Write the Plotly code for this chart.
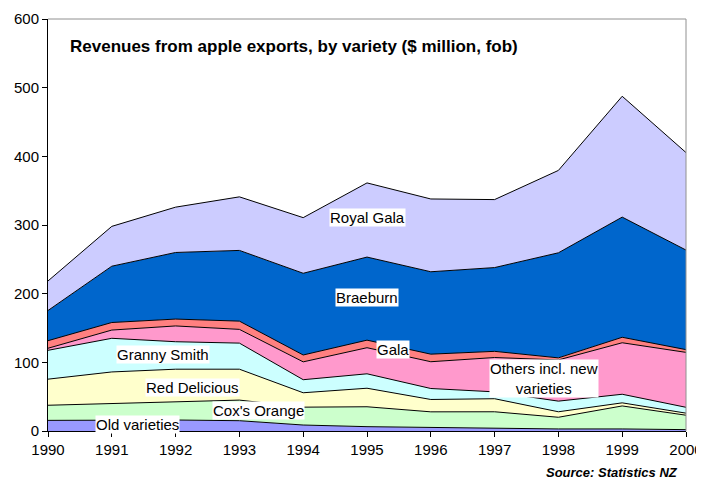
import plotly.graph_objects as go

years = [1990, 1991, 1992, 1993, 1994, 1995, 1996, 1997, 1998, 1999, 2000]

old_varieties = [15.5, 16, 16, 15, 8.7, 6.3, 4.9, 4, 3, 3, 2]
coxs_orange = [22, 24, 26, 30, 26, 29, 23, 24, 17, 33.5, 21]
red_delicious = [38, 46, 48, 45, 21, 27, 18, 19, 8, 4.5, 3]
granny_smith = [42, 49, 40, 38, 19, 21, 16, 10, 15.5, 12.5, 8.5]
others = [3, 12, 23, 20, 26, 38, 39, 50, 60, 75, 80]
gala = [11, 11, 10, 12, 10, 11, 11, 9, 3, 8, 4]
braeburn = [44, 82, 97, 103, 119, 121, 120, 122, 153, 175, 145]
royal_gala = [43, 58, 66, 78, 81, 108, 106, 99, 120, 176, 142]

series = [
    ("Old varieties", old_varieties, "#9999FF"),
    ("Cox's Orange", coxs_orange, "#CCFFCC"),
    ("Red Delicious", red_delicious, "#FFFFCC"),
    ("Granny Smith", granny_smith, "#CCFFFF"),
    ("Others incl. new varieties", others, "#FF99CC"),
    ("Gala", gala, "#FF8080"),
    ("Braeburn", braeburn, "#0066CC"),
    ("Royal Gala", royal_gala, "#CCCCFF"),
]

# label positions (data coords)
label_names = ["Royal Gala", "Braeburn", "Gala", "Granny Smith", "Red Delicious",
               "Cox's Orange", "Old varieties", "Others incl. new<br>varieties"]
label_x = [1995.0, 1995.0, 1995.4, 1991.8, 1992.27, 1993.3, 1991.4, 1997.77]
label_y = [311, 195, 119, 111, 63, 30, 10, 77]

font_family = "Liberation Sans, Arial, sans-serif"

fig = go.Figure()
for name, vals, color in series:
    fig.add_trace(go.Scatter(
        x=years, y=vals, name=name, mode="lines",
        stackgroup="one", fillcolor=color,
        line=dict(color="black", width=1),
        hoverinfo="skip",
    ))

annotations = []
for t, x, y in zip(label_names, label_x, label_y):
    annotations.append(dict(
        x=x, y=y, xref="x", yref="y", text=t, showarrow=False,
        font=dict(family=font_family, size=15, color="black"),
        bgcolor="white", borderpad=0,
    ))

annotations.append(dict(
    x=0.031, y=0.934, xref="paper", yref="paper", xanchor="left", yanchor="middle",
    text="<b>Revenues from apple exports, by variety ($ million, fob)</b>",
    showarrow=False, font=dict(family=font_family, size=17, color="black"),
))
annotations.append(dict(
    x=(680 - 48) / 638, y=-(472 - 431) / 412, xref="paper", yref="paper",
    xanchor="right", yanchor="middle", showarrow=False,
    text="<b><i>Source: Statistics NZ</i></b>",
    font=dict(family=font_family, size=13, color="black"),
))

fig.update_layout(
    template="none",
    width=704, height=482,
    margin=dict(l=40, r=26, t=11, b=59),
    plot_bgcolor="white", paper_bgcolor="white",
    showlegend=False,
    font=dict(family=font_family, size=15, color="black"),
    annotations=annotations,
    xaxis=dict(
        range=[1990, 2000], tickvals=years, ticks="outside", ticklen=5,
        tickcolor="black", showline=True, linecolor="black", linewidth=1,
        showgrid=False, zeroline=False, tickfont=dict(size=15), automargin=False,
    ),
    yaxis=dict(
        range=[0, 600], dtick=100, ticks="outside", ticklen=5,
        tickcolor="black", showline=True, linecolor="black", linewidth=1,
        showgrid=False, zeroline=False, tickfont=dict(size=15), automargin=False,
    ),
    shapes=[
        dict(type="line", xref="paper", yref="paper", x0=0, x1=1, y0=1, y1=1,
             line=dict(color="#909090", width=1)),
        dict(type="line", xref="paper", yref="paper", x0=1, x1=1, y0=0, y1=1,
             line=dict(color="#909090", width=1)),
    ],
)

fig.write_html(
    "out.html",
    post_script="document.documentElement.style.overflow='hidden';document.body.style.overflow='hidden';",
)
